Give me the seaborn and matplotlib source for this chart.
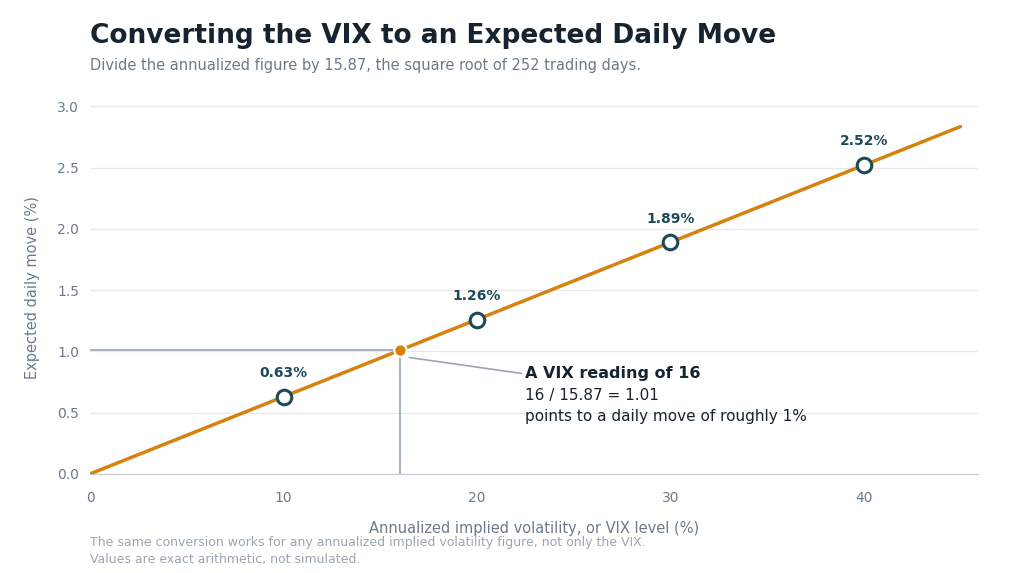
import numpy as np
import matplotlib
matplotlib.use("Agg")
import matplotlib.pyplot as plt
import seaborn as sns
import pandas as pd

# data
vix_line = [0, 45]
divisor = 15.87
marker_vix = [10, 20, 30, 40]
marker_labels = ["0.63%", "1.26%", "1.89%", "2.52%"]
highlight_vix = 16

line_df = pd.DataFrame({"vix": vix_line, "move": [v / divisor for v in vix_line]})
pts_df = pd.DataFrame({"vix": marker_vix, "move": [v / divisor for v in marker_vix]})
hy = highlight_vix / divisor

sns.set_style("white")
plt.rcParams['font.family'] = ['DejaVu Sans']

ORANGE = "#d6820f"
TEAL = "#1d4a57"
DARK = "#17232e"
GRAY = "#6b7b8c"
LIGHT = "#9aa6b2"

fig = plt.figure(figsize=(10.24, 5.73), dpi=100)
ax = fig.add_axes([0.088, 0.173, 0.867, 0.652])

sns.lineplot(data=line_df, x="vix", y="move", color=ORANGE, lw=2.5, ax=ax, zorder=3)
sns.scatterplot(data=pts_df, x="vix", y="move", s=110, facecolor="white",
                edgecolor=TEAL, linewidth=2.2, ax=ax, zorder=5)
for x, y, lab in zip(pts_df.vix, pts_df.move, marker_labels):
    ax.annotate(lab, (x, y), xytext=(0, 12), textcoords="offset points",
                ha="center", va="bottom", fontsize=10, fontweight="bold", color=TEAL)

# highlight guides
ax.plot([0, highlight_vix], [hy, hy], color=LIGHT, lw=1.2, zorder=2)
ax.plot([highlight_vix, highlight_vix], [0, hy], color=LIGHT, lw=1.2, zorder=2)
ax.scatter([highlight_vix], [hy], s=80, color=ORANGE, edgecolor="white", linewidth=1.5, zorder=6)
ax.plot([16.5, 22.3], [0.95, 0.82], color=LIGHT, lw=1.2)
ax.text(22.5, 0.82, "A VIX reading of 16", fontsize=11.5, fontweight="bold", color=DARK, va="center")
ax.text(22.5, 0.64, "16 / 15.87 = 1.01", fontsize=11, color=DARK, va="center")
ax.text(22.5, 0.465, "points to a daily move of roughly 1%", fontsize=11, color=DARK, va="center")

ax.set_xlim(0, 45.9)
ax.set_ylim(0, 3.05)
ax.set_xticks([0, 10, 20, 30, 40])
ax.set_yticks(np.arange(0, 3.01, 0.5))
ax.set_yticklabels([f"{v:.1f}" for v in np.arange(0, 3.01, 0.5)])
ax.grid(axis="y", color="#e6e9ec", lw=0.9)
ax.set_axisbelow(True)
for s in ["top", "right", "left"]:
    ax.spines[s].set_visible(False)
ax.spines["bottom"].set_color("#c3cad2")
ax.tick_params(colors=GRAY, labelsize=10, length=0, pad=8)
ax.tick_params(axis="x", length=4, color="#c3cad2")
ax.set_xlabel("Annualized implied volatility, or VIX level (%)", color=GRAY, fontsize=10.5, labelpad=12)
ax.set_ylabel("Expected daily move (%)", color=GRAY, fontsize=10.5, labelpad=12)

fig.text(0.088, 0.915, "Converting the VIX to an Expected Daily Move", fontsize=19,
         fontweight="bold", color=DARK, va="bottom")
fig.text(0.088, 0.885, "Divide the annualized figure by 15.87, the square root of 252 trading days.",
         fontsize=10.5, color=GRAY, va="center")
fig.text(0.088, 0.053, "The same conversion works for any annualized implied volatility figure, not only the VIX.",
         fontsize=9, color=LIGHT, va="center")
fig.text(0.088, 0.024, "Values are exact arithmetic, not simulated.", fontsize=9, color=LIGHT, va="center")

fig.savefig("out.png", dpi=100)
